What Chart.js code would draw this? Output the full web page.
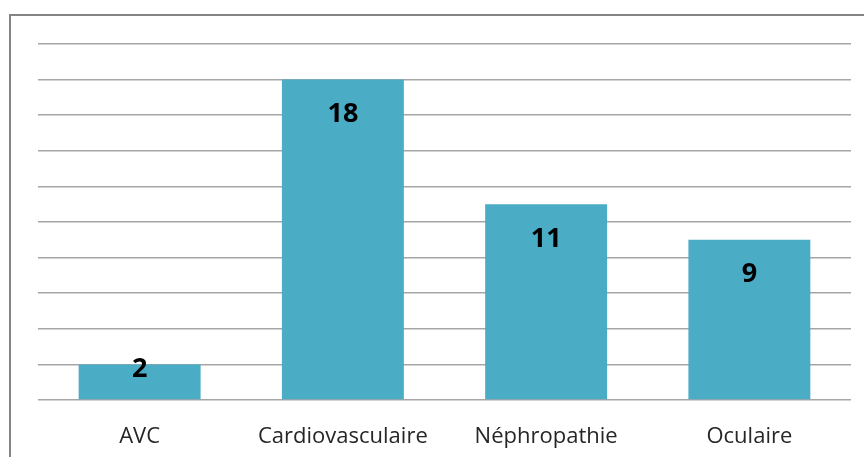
<!DOCTYPE html>
<html>
<head>
<meta charset="utf-8">
<script src="https://cdn.jsdelivr.net/npm/chart.js@4"></script>
<style>
  html, body { margin: 0; padding: 0; background: #fff; overflow: hidden; }
  #frame { position: absolute; left: 9px; top: 14px; width: 900px; height: 500px;
           border-left: 2px solid #858585; border-top: 2px solid #858585; }
  #wrap { position: absolute; left: 0; top: 0; width: 864px; height: 457px; }
</style>
</head>
<body>
<div id="frame"></div>
<div id="wrap"><canvas id="chart"></canvas></div>
<script>
const categories = ['AVC', 'Cardiovasculaire', 'Néphropathie', 'Oculaire'];
const values = [2, 18, 11, 9];

// Excel-like "inside end" labels
const barLabels = {
    id: 'barLabels',
    afterDatasetsDraw(chart) {
        const ctx = chart.ctx;
        const meta = chart.getDatasetMeta(0);
        ctx.save();
        ctx.font = 'bold 27px "Open Sans", sans-serif';
        ctx.fillStyle = '#000';
        ctx.textAlign = 'center';
        ctx.textBaseline = 'middle';
        meta.data.forEach((bar, i) => {
            const y = Math.min(bar.y + 35, bar.base - 30);
            ctx.fillText(String(values[i]), bar.x, y);
        });
        ctx.restore();
    }
};

new Chart(document.getElementById('chart'), {
    type: 'bar',
    data: {
        labels: categories,
        datasets: [{
            data: values,
            backgroundColor: '#4BACC6',
            borderWidth: 0,
            categoryPercentage: 0.6,
            barPercentage: 1.0
        }]
    },
    options: {
        responsive: true,
        maintainAspectRatio: false,
        animation: false,
        layout: { padding: { left: 38, right: 13, top: 44, bottom: 0 } },
        plugins: { legend: { display: false }, tooltip: { enabled: false } },
        scales: {
            x: {
                grid: { display: false },
                border: { display: false },
                ticks: { color: '#262626', font: { family: '"Open Sans", sans-serif', size: 22 }, padding: 16 },
                afterFit: s => { s.height = 57; }
            },
            y: {
                min: 0,
                max: 20,
                ticks: { display: false, stepSize: 2 },
                grid: { color: '#a6a6a6', lineWidth: 1.5, drawTicks: false },
                border: { display: false },
                afterFit: s => { s.width = 0; }
            }
        }
    },
    plugins: [barLabels]
});
</script>
</body>
</html>
